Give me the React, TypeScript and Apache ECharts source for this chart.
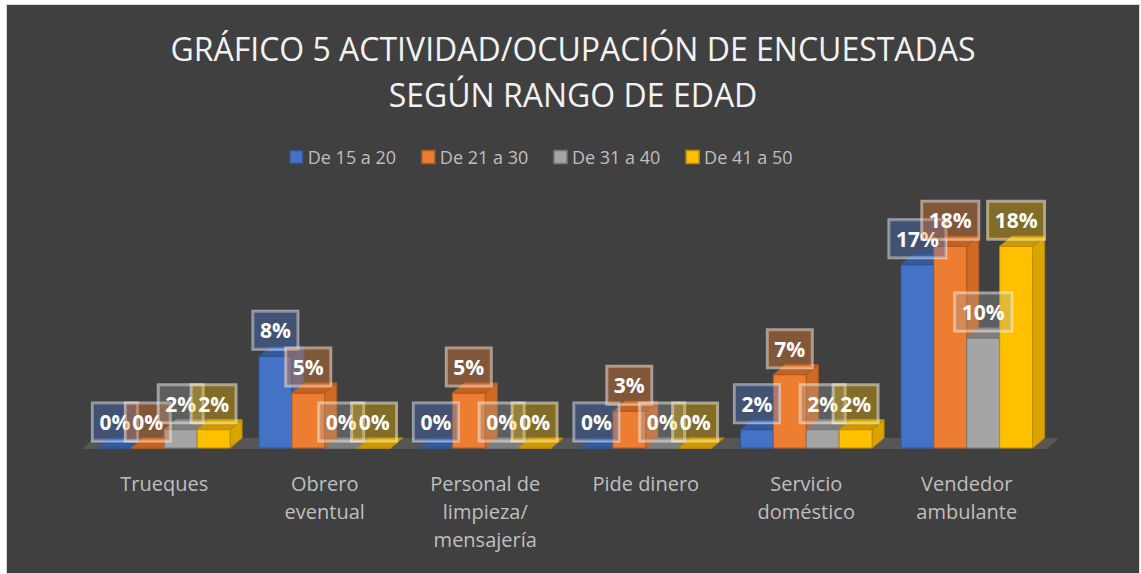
import React, { useEffect, useRef } from "react";
import * as echarts from "echarts";

const categories = [
  "Trueques",
  "Obrero\neventual",
  "Personal de\nlimpieza/\nmensajería",
  "Pide dinero",
  "Servicio\ndoméstico",
  "Vendedor\nambulante",
];
const seriesNames = ["De 15 a 20", "De 21 a 30", "De 31 a 40", "De 41 a 50"];
const de15a20 = [0, 8.33, 0, 0, 1.67, 16.67];
const de21a30 = [0, 5, 5, 3.33, 6.67, 18.33];
const de31a40 = [1.67, 0, 0, 0, 1.67, 10];
const de41a50 = [1.67, 0, 0, 0, 1.67, 18.33];
const seriesValues = [de15a20, de21a30, de31a40, de41a50];

const palette = [
  { front: "#4472c4", side: "#3862ae", top: "#345a9e", border: "#2f528f", label: "rgba(68,114,196,0.38)" },
  { front: "#ed7d31", side: "#cf6a24", top: "#c4621f", border: "#ae5a21", label: "rgba(237,125,49,0.38)" },
  { front: "#a5a5a5", side: "#8c8c8c", top: "#7e7e7e", border: "#787878", label: "rgba(165,165,165,0.3)" },
  { front: "#ffc000", side: "#d9a300", top: "#cc9a00", border: "#bc8c00", label: "rgba(255,192,0,0.35)" },
];

const DX = 12;
const DY = -10;
const FONT = "'Open Sans', 'Noto Sans', sans-serif";

export default function App() {
  const ref = useRef<HTMLDivElement>(null);
  useEffect(() => {
    if (!ref.current) return;
    const chart = echarts.init(ref.current, undefined, { renderer: "svg" });

    const barSeries = seriesValues.map((vals, s) => ({
      type: "custom",
      name: seriesNames[s],
      data: vals.map((v, i) => [i, v]),
      itemStyle: { color: palette[s].front },
      renderItem: (params: any, api: any) => {
        const ci = api.value(0);
        const v = api.value(1);
        const base = api.coord([ci, 0]);
        const topPt = api.coord([ci, v]);
        const bandW = api.size([1, 0])[0];
        const bw = bandW * 0.205;
        const cx = base[0] + (s - 1.5) * bw;
        const x0 = cx - bw / 2;
        const x1 = cx + bw / 2;
        const yb = base[1];
        const yt = topPt[1];
        const c = palette[s];
        return {
          type: "group",
          children: [
            {
              type: "polygon",
              shape: { points: [[x1, yt], [x1 + DX, yt + DY], [x1 + DX, yb + DY], [x1, yb]] },
              style: { fill: c.side, stroke: c.border, lineWidth: 1 },
            },
            {
              type: "rect",
              shape: { x: x0, y: yt, width: bw, height: Math.max(yb - yt, 0) },
              style: { fill: c.front, stroke: c.border, lineWidth: 1 },
            },
            {
              type: "polygon",
              shape: { points: [[x0, yt], [x0 + DX, yt + DY], [x1 + DX, yt + DY], [x1, yt]] },
              style: { fill: c.top, stroke: c.border, lineWidth: 1 },
            },
            {
              type: "text",
              z2: 100,
              style: {
                x: cx,
                y: yt - 7,
                text: Math.round(v) + "%",
                fill: "#ffffff",
                font: `bold 21px ${FONT}`,
                align: "center",
                verticalAlign: "bottom",
                backgroundColor: c.label,
                borderColor: "rgba(255,255,255,0.5)",
                borderWidth: 1.5,
                padding: [8, 7, 8, 7],
                lineHeight: 22,
              },
            },
          ],
        };
      },
    }));

    const floorSeries = {
      type: "custom",
      name: "floor",
      silent: true,
      data: [[0, 0]],
      renderItem: (params: any, api: any) => {
        const cs = params.coordSys;
        const yb = cs.y + cs.height + 1;
        const xl = cs.x - 2;
        const xr = cs.x + cs.width;
        return {
          type: "polygon",
          shape: { points: [[xl, yb], [xr, yb], [xr + DX, yb - 11], [xl + DX, yb - 11]] },
          style: { fill: "#565656" },
        };
      },
    };

    chart.setOption({
      animation: false,
      backgroundColor: "#404040",
      title: {
        text: "GRÁFICO 5 ACTIVIDAD/OCUPACIÓN DE ENCUESTADAS\nSEGÚN RANGO DE EDAD",
        left: "center",
        top: 15,
        textStyle: {
          color: "#f2f2f2",
          fontSize: 32,
          fontWeight: "normal",
          fontFamily: FONT,
          lineHeight: 46,
        },
      },
      legend: {
        left: 277,
        top: 138,
        itemWidth: 13,
        itemHeight: 13,
        itemGap: 25,
        icon: "rect",
        textStyle: { color: "#bfbfbf", fontSize: 18, fontFamily: FONT },
        data: seriesNames.map((n, s) => ({
          name: n,
          itemStyle: { color: palette[s].front, borderColor: palette[s].border, borderWidth: 1.5 },
        })),
      },
      grid: { left: 77, right: 92, top: 223, bottom: 125 },
      xAxis: {
        type: "category",
        data: categories,
        axisLine: { show: false },
        axisTick: { show: false },
        axisLabel: {
          color: "#bfbfbf",
          fontSize: 20,
          lineHeight: 28,
          margin: 21,
          fontFamily: FONT,
          interval: 0,
        },
      },
      yAxis: { type: "value", min: 0, max: 20, show: false, splitLine: { show: false } },
      series: [floorSeries, ...barSeries],
    });
    return () => chart.dispose();
  }, []);

  return (
    <div
      style={{
        position: "absolute",
        left: 6,
        top: 4,
        width: 1134,
        height: 570,
        boxSizing: "border-box",
        border: "1px solid #d9d9d9",
        background: "#404040",
      }}
    >
      <div ref={ref} style={{ width: 1132, height: 568 }} />
    </div>
  );
}
